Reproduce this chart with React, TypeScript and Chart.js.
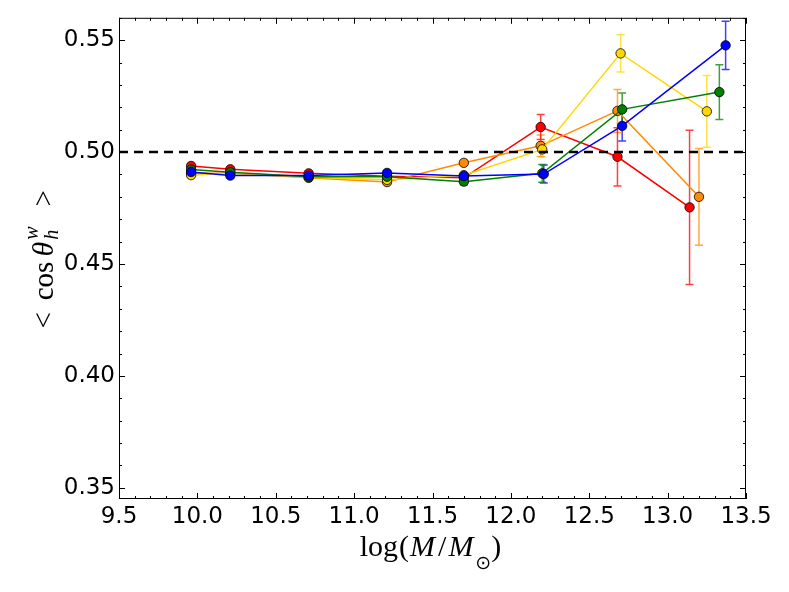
import React, { useEffect, useRef } from "react";
import { Chart, registerables } from "chart.js";

Chart.register(...registerables);

const seriesColors = ["#ff0000", "#ff8c00", "#ffd700", "#008000", "#0000ff"];
const errorColors = [
  "rgba(255,0,0,0.75)",
  "rgba(255,140,0,0.75)",
  "rgba(255,215,0,0.75)",
  "rgba(0,128,0,0.75)",
  "rgba(0,0,255,0.75)",
];

const massRed = [9.96, 10.21, 10.71, 11.21, 11.7, 12.19, 12.68, 13.14];
const cosRed = [0.4938, 0.4923, 0.4905, 0.4892, 0.4885, 0.5112, 0.4979, 0.4753];
const errRed = [0.0012, 0.001, 0.001, 0.001, 0.001, 0.0056, 0.013, 0.0345];

const massOrange = [9.96, 10.21, 10.71, 11.21, 11.7, 12.19, 12.68, 13.2];
const cosOrange = [0.4905, 0.4905, 0.4885, 0.4866, 0.4952, 0.5028, 0.5184, 0.48];
const errOrange = [0.001, 0.001, 0.001, 0.001, 0.0012, 0.0048, 0.0096, 0.0216];

const massYellow = [9.96, 10.21, 10.71, 11.21, 11.7, 12.2, 12.7, 13.25];
const cosYellow = [0.4897, 0.4908, 0.4888, 0.4876, 0.4897, 0.5012, 0.5441, 0.5182];
const errYellow = [0.001, 0.001, 0.001, 0.001, 0.001, 0.0034, 0.0083, 0.016];

const massGreen = [9.96, 10.21, 10.71, 11.21, 11.7, 12.2, 12.71, 13.33];
const cosGreen = [0.4922, 0.491, 0.489, 0.489, 0.4868, 0.4905, 0.5191, 0.5268];
const errGreen = [0.001, 0.001, 0.001, 0.001, 0.0015, 0.004, 0.0073, 0.0122];

const massBlue = [9.96, 10.21, 10.71, 11.21, 11.7, 12.21, 12.71, 13.37];
const cosBlue = [0.4911, 0.4895, 0.4895, 0.4907, 0.4893, 0.4902, 0.5117, 0.5477];
const errBlue = [0.001, 0.001, 0.001, 0.001, 0.001, 0.004, 0.0067, 0.0108];

const referenceLevel = 0.5;
const xRange = [9.5, 13.5];
const yRange = [0.345, 0.56];
const xMajorTicks = [9.5, 10.0, 10.5, 11.0, 11.5, 12.0, 12.5, 13.0, 13.5];
const yMajorTicks = [0.35, 0.4, 0.45, 0.5, 0.55];
const xMinorStep = 0.1;
const yMinorStep = 0.01;

const series = [
  { mass: massRed, cos: cosRed, err: errRed },
  { mass: massOrange, cos: cosOrange, err: errOrange },
  { mass: massYellow, cos: cosYellow, err: errYellow },
  { mass: massGreen, cos: cosGreen, err: errGreen },
  { mass: massBlue, cos: cosBlue, err: errBlue },
];

type Piece = { text: string; font: string; dy: number; gap?: number; stackWithPrev?: boolean };

function drawPieces(ctx: CanvasRenderingContext2D, pieces: Piece[], cx: number, baseY: number) {
  const widths: number[] = [];
  let total = 0;
  pieces.forEach((p, i) => {
    ctx.font = p.font;
    const w = ctx.measureText(p.text).width;
    widths.push(w);
    if (p.stackWithPrev && i > 0) {
      total += Math.max(0, w - widths[i - 1]);
    } else {
      total += w + (p.gap || 0);
    }
  });
  let x = cx - total / 2;
  let prevX = x;
  let prevW = 0;
  pieces.forEach((p, i) => {
    ctx.font = p.font;
    if (p.stackWithPrev && i > 0) {
      ctx.fillText(p.text, prevX, baseY + p.dy);
      x += Math.max(0, widths[i] - prevW);
    } else {
      x += p.gap || 0;
      ctx.fillText(p.text, x, baseY + p.dy);
      prevX = x;
      prevW = widths[i];
      x += widths[i];
    }
  });
}

const decorPlugin = {
  id: "decor",
  beforeDatasetsDraw(chart: any) {
    const { ctx } = chart;
    const xs = chart.scales.x;
    const ys = chart.scales.y;
    ctx.save();
    ctx.lineWidth = 1.5;
    chart.data.datasets.forEach((ds: any) => {
      if (!ds.errors) return;
      ctx.strokeStyle = ds.errorColor;
      ds.data.forEach((p: any, i: number) => {
        const px = xs.getPixelForValue(p.x);
        const top = ys.getPixelForValue(p.y + ds.errors[i]);
        const bot = ys.getPixelForValue(p.y - ds.errors[i]);
        ctx.beginPath();
        ctx.moveTo(px, top);
        ctx.lineTo(px, bot);
        ctx.moveTo(px - 4, top);
        ctx.lineTo(px + 4, top);
        ctx.moveTo(px - 4, bot);
        ctx.lineTo(px + 4, bot);
        ctx.stroke();
      });
    });
    ctx.restore();
  },
  afterDraw(chart: any) {
    const { ctx, chartArea } = chart;
    const xs = chart.scales.x;
    const ys = chart.scales.y;
    const { left, right, top, bottom } = chartArea;
    ctx.save();
    ctx.strokeStyle = "#000";
    ctx.lineWidth = 1;
    ctx.strokeRect(left + 0.5, top + 0.5, right - left - 1, bottom - top - 1);

    ctx.beginPath();
    const nx = Math.round((xRange[1] - xRange[0]) / xMinorStep);
    for (let k = 0; k <= nx; k++) {
      const v = xRange[0] + k * xMinorStep;
      const len = k % 5 === 0 ? 6 : 3;
      const px = Math.round(xs.getPixelForValue(v)) + 0.5;
      ctx.moveTo(px, bottom);
      ctx.lineTo(px, bottom - len);
      ctx.moveTo(px, top);
      ctx.lineTo(px, top + len);
    }
    const ny = Math.round((yRange[1] - yMajorTicks[0]) / yMinorStep);
    for (let k = 0; k <= ny; k++) {
      const v = yMajorTicks[0] + k * yMinorStep;
      const len = k % 5 === 0 ? 6 : 3;
      const py = Math.round(ys.getPixelForValue(v)) + 0.5;
      ctx.moveTo(left, py);
      ctx.lineTo(left + len, py);
      ctx.moveTo(right, py);
      ctx.lineTo(right - len, py);
    }
    ctx.stroke();

    ctx.fillStyle = "#000";
    ctx.textBaseline = "alphabetic";
    ctx.textAlign = "left";
    const serif = "'Liberation Serif', 'DejaVu Serif', serif";
    drawPieces(
      ctx,
      [
        { text: "log", font: `30px ${serif}`, dy: 0 },
        { text: "(", font: `30px ${serif}`, dy: 0, gap: 1 },
        { text: "M", font: `italic 30px ${serif}`, dy: 0, gap: 1 },
        { text: "/", font: `30px ${serif}`, dy: 0, gap: 3 },
        { text: "M", font: `italic 30px ${serif}`, dy: 0, gap: 2 },
        { text: "\u2299", font: `19px 'DejaVu Sans'`, dy: 13, gap: 2 },
        { text: ")", font: `30px ${serif}`, dy: 0, gap: 0 },
      ],
      (left + right) / 2 - 2,
      556
    );
    ctx.translate(53, (top + bottom) / 2 + 1);
    ctx.rotate(-Math.PI / 2);
    drawPieces(
      ctx,
      [
        { text: "<", font: `29px ${serif}`, dy: 0 },
        { text: "cos", font: `29px ${serif}`, dy: 0, gap: 12 },
        { text: "\u03b8", font: `italic 30px ${serif}`, dy: 0, gap: 5 },
        { text: "w", font: `italic 20px ${serif}`, dy: -15, gap: 2 },
        { text: "h", font: `italic 20px ${serif}`, dy: 5, stackWithPrev: true },
        { text: ">", font: `29px ${serif}`, dy: 0, gap: 20 },
      ],
      0,
      0
    );
    ctx.restore();
  },
};

export default function App() {
  const ref = useRef<HTMLCanvasElement | null>(null);
  useEffect(() => {
    if (!ref.current) return;
    const datasets: any[] = [];
    datasets.push({
      label: "reference",
      data: xRange.map((v) => ({ x: v, y: referenceLevel })),
      borderColor: "#000",
      borderWidth: 2.5,
      borderDash: [9, 6],
      pointRadius: 0,
      showLine: true,
      fill: false,
    });
    for (let i = series.length - 1; i >= 0; i--) {
      const s = series[i];
      datasets.push({
        label: "s" + i,
        data: s.mass.map((m, j) => ({ x: m, y: s.cos[j] })),
        errors: s.err,
        errorColor: errorColors[i],
        borderColor: seriesColors[i],
        backgroundColor: seriesColors[i],
        pointBackgroundColor: seriesColors[i],
        pointBorderColor: "#000",
        pointBorderWidth: 0.8,
        pointRadius: 4.7,
        borderWidth: 1.5,
        showLine: true,
        fill: false,
      });
    }
    const chart = new Chart(ref.current, {
      type: "scatter",
      data: { datasets },
      plugins: [decorPlugin],
      options: {
        animation: false,
        responsive: true,
        maintainAspectRatio: false,
        devicePixelRatio: 1,
        layout: { padding: { top: 17, right: 43, left: 0, bottom: 0 } },
        plugins: { legend: { display: false }, tooltip: { enabled: false } },
        scales: {
          x: {
            type: "linear",
            min: xRange[0],
            max: xRange[1],
            grid: { display: false, drawTicks: false },
            border: { display: false },
            afterBuildTicks: (scale: any) => {
              scale.ticks = xMajorTicks.map((v) => ({ value: v }));
            },
            afterFit: (scale: any) => {
              scale.height = 93;
            },
            ticks: {
              autoSkip: false,
              maxRotation: 0,
              padding: 4,
              color: "#000",
              font: { family: "'DejaVu Sans'", size: 23 },
              callback: (v: any) => Number(v).toFixed(1),
            },
          },
          y: {
            type: "linear",
            min: yRange[0],
            max: yRange[1],
            grid: { display: false, drawTicks: false },
            border: { display: false },
            afterBuildTicks: (scale: any) => {
              scale.ticks = yMajorTicks.map((v) => ({ value: v }));
            },
            afterFit: (scale: any) => {
              scale.width = 119;
            },
            ticks: {
              autoSkip: false,
              padding: 4,
              color: "#000",
              font: { family: "'DejaVu Sans'", size: 23 },
              callback: (v: any) => Number(v).toFixed(2),
            },
          },
        },
      },
    } as any);
    return () => chart.destroy();
  }, []);
  return (
    <div style={{ position: "absolute", left: 0, top: 0, width: 789, height: 592, background: "#fff" }}>
      <canvas ref={ref} />
    </div>
  );
}
